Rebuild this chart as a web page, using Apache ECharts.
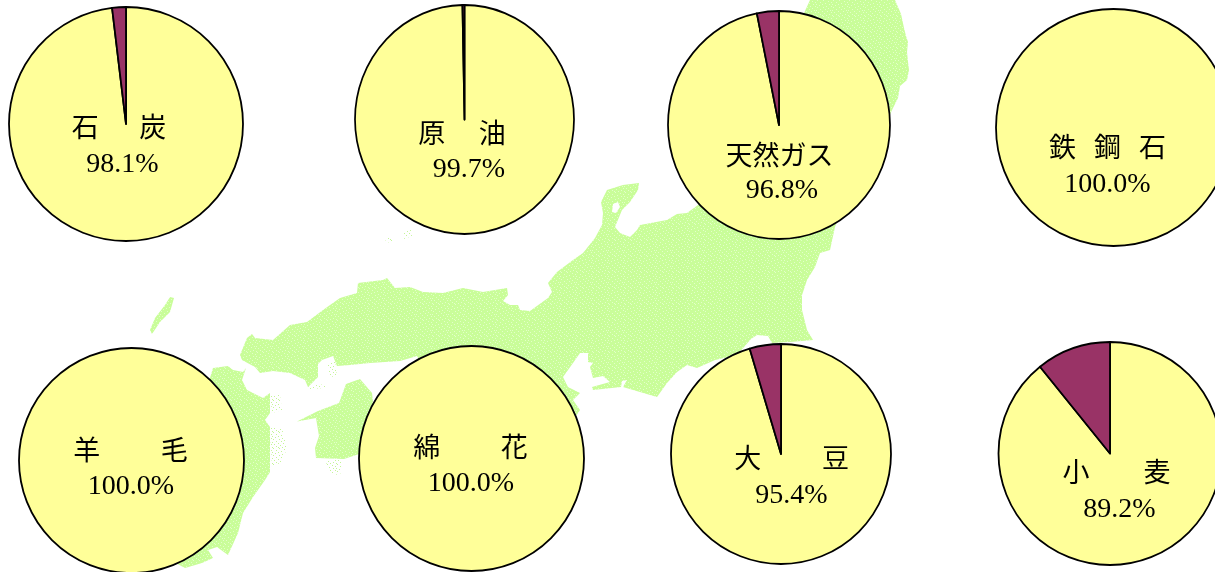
<!DOCTYPE html>
<html>
<head>
<meta charset="utf-8">
<style>
  html, body { margin: 0; padding: 0; background: #fff; }
  #chart { width: 1215px; height: 572px; }
</style>
<script src="https://cdn.jsdelivr.net/npm/echarts@6/dist/echarts.min.js"></script>
</head>
<body>
<div id="chart"></div>
<script>
// 品目ラベル(字間は原図に合わせる)
const categories = [
  '石\u2003\u2002炭', '原\u2003\u2005油', '天然ガス', '鉄\u2002\u2006鋼\u2002\u2006石',
  '羊\u2003\u2003\u2005毛', '綿\u2003\u2003\u2005花', '大\u2003\u2003\u2005豆', '小\u2003\u2003麦'
]
// 輸入依存率(%)
const importShare = [98.1, 99.7, 96.8, 100.0, 100.0, 100.0, 95.4, 89.2]
// 国内生産(%)
const domesticShare = [1.9, 0.3, 3.2, 0, 0, 0, 4.6, 10.8]

// 円の配置 [cx, cy, rx, ry] 原図は少し縦長のものがある
const pieLayout = [
  [126, 124, 117, 117], [464.5, 119.5, 109.5, 114.5], [779, 125, 111, 114], [1113.5, 127.5, 117.5, 118.5],
  [131.5, 460.5, 112.5, 112.5], [471.5, 458.5, 112.5, 112.5], [781, 454, 110, 110], [1110, 453.5, 111.5, 111.5]
]
// ラベル位置 [品目x, 品目y, 数値x, 数値y](中心)
const labelLayout = [
  [119, 127, 122.5, 165], [462, 133, 469, 170], [779.5, 155, 782, 191], [1107.5, 147, 1107.5, 185],
  [130.5, 450, 131, 487], [470.5, 447, 471, 484], [791.5, 458, 791.5, 496], [1116.5, 472, 1119.5, 510]
]

// 背景の日本地図(輪郭のトレース)
const honshuOutline = [
  [810,0],[895,0],[901,14],[904,28],[906,36],[908,42],[907,52],[908,62],[909,70],[907,80],[900,86],[898,98],[893,108],[885,125],[850,190],
  [835,227],[830,250],[820,253],[815,267],[807,280],[802,295],[802,310],[807,330],[813,340],[790,342],[772,343],
  [768,336],[757,335],[751,339],[737,355],[715,360],[697,368],[687,365],[677,372],[667,383],[657,397],[640,392],
  [623,387],[627,380],[622,381],[621,387],[593,390],[592,387],[610,382],[603,376],[593,378],[590,367],[593,363],
  [588,362],[588,353],[580,353],[573,363],[563,377],[568,387],[580,393],[573,400],[580,410],[560,440],[480,440],
  [430,380],[417,356],[400,361],[370,363],[350,365],[337,366],[333,356],[322,360],[318,364],[318,377],[308,387],
  [305,380],[290,373],[273,371],[260,373],[255,367],[242,360],[240,355],[247,338],[252,334],[255,338],[273,340],
  [290,325],[307,322],[323,310],[340,298],[357,293],[358,283],[383,280],[387,278],[395,288],[410,287],[423,292],
  [443,293],[463,288],[483,292],[507,288],[508,295],[503,301],[510,305],[518,305],[520,310],[530,311],[548,298],
  [552,292],[548,283],[557,272],[573,260],[583,253],[595,238],[602,225],[603,213],[601,202],[607,190],[623,185],
  [639,183],[638,190],[630,202],[622,210],[615,227],[620,233],[630,237],[637,230],[640,225],[667,220],[677,214],
  [687,213],[698,205],[760,110]
]
const shikokuOutline = [
  [360,379],[346,384],[339,403],[318,411],[297,421.5],[316,418],[319,436],[315,448],[316,458],[344,459],[362,453],
  [375,420],[372,393]
]
const kyushuOutline = [
  [210,378],[213,368],[228,366],[233,370],[243,372],[246,368],[242,380],[247,390],[263,398],[270,393],[270,413],
  [265,420],[270,427],[270,472],[265,480],[253,497],[243,513],[238,533],[228,555],[217,547],[208,550],[213,558],
  [202,563],[185,568],[170,560],[170,420]
]
const tsushima = [[170,297],[174,298],[170,312],[160,322],[152,334],[150,330],[155,318],[165,305]]
// 点描だけの淡い部分
const sparseAreas = [
  [[385,238],[392,238],[393,243],[386,242]],
  [[402,231],[411,230],[412,236],[404,239]],
  [[270,395],[280,395],[282,410],[272,413]],
  [[270,428],[282,428],[287,448],[282,462],[272,467]],
  [[325,460],[342,460],[340,476],[330,472]],
  [[308,386],[327,384],[326,388],[310,389]],
  [[327,363],[335,362],[337,376],[330,377]]
]
const nanaoBay = [[612,212],[613,204],[618,202],[620,207],[616,213]]

// 点描タイルの点(規則的に見えないよう不揃いにしてある)
const tileDots = [
  [1,0],[7,0],[12,1],[4,2],[15,2],[9,3],[0,4],[6,4],[13,4],[3,5],[10,6],[15,6],[1,7],[7,7],[12,8],
  [4,9],[9,9],[0,10],[14,10],[6,11],[11,11],[2,12],[15,12],[8,13],[13,14],[4,14],[0,15],[10,15],[6,15]
]

const makeTile = (base, dot) => {
  const tile = document.createElement('canvas')
  tile.width = 16
  tile.height = 16
  const ctx = tile.getContext('2d')
  if (base) {
    ctx.fillStyle = base
    ctx.fillRect(0, 0, 16, 16)
  }
  ctx.fillStyle = dot
  tileDots.forEach(p => ctx.fillRect(p[0], p[1], 1, 1))
  return tile
}

const landFill = { image: makeTile('#c9fd99', '#e2ffc8'), repeat: 'repeat' }
const sparseFill = { image: makeTile(null, '#c4f598'), repeat: 'repeat' }

const landShape = (points, fill) => ({
  type: 'polygon',
  silent: true,
  z: -10,
  shape: { points: points },
  style: { fill: fill, stroke: null }
})

const series = categories.map((name, i) => ({
  name: name,
  type: 'pie',
  center: [pieLayout[i][0], pieLayout[i][1]],
  radius: pieLayout[i][3],
  startAngle: 90,
  silent: true,
  animation: false,
  label: { show: false },
  labelLine: { show: false },
  itemStyle: { borderColor: '#000', borderWidth: 1.8 },
  emphasis: { disabled: true },
  data: [
    { value: importShare[i], name: '輸入', itemStyle: { color: '#ffff99' } },
    { value: domesticShare[i], name: '国内', itemStyle: { color: '#993366' } }
  ].filter(d => d.value > 0)
}))

const titles = []
categories.forEach((name, i) => {
  const pos = labelLayout[i]
  titles.push({
    text: name,
    left: pos[0],
    top: pos[1] - 15,
    padding: 0,
    textAlign: 'center',
    textStyle: { fontFamily: '"Noto Sans CJK JP"', fontSize: 27, fontWeight: 'normal', color: '#000', lineHeight: 30 }
  })
  titles.push({
    text: importShare[i].toFixed(1) + '%',
    left: pos[2],
    top: pos[3] - 15,
    padding: 0,
    textAlign: 'center',
    textStyle: { fontFamily: '"Liberation Serif"', fontSize: 28, fontWeight: 'normal', color: '#000', lineHeight: 30 }
  })
})

const chart = echarts.init(document.getElementById('chart'))
chart.setOption({
  animation: false,
  backgroundColor: '#fff',
  title: titles,
  graphic: {
    elements: [
      landShape(honshuOutline, landFill),
      landShape(shikokuOutline, landFill),
      landShape(kyushuOutline, landFill),
      landShape(tsushima, landFill),
      ...sparseAreas.map(a => landShape(a, sparseFill)),
      landShape(nanaoBay, '#fff')
    ]
  },
  series: series
})

// pie は真円しか描けないので、縦長の円だけ扇形を横に縮める
series.forEach((s, i) => {
  const [cx, cy, rx, ry] = pieLayout[i]
  if (rx === ry) return
  chart.getModel().getSeriesByIndex(i).getData().eachItemGraphicEl(el => {
    el.originX = cx
    el.originY = cy
    el.scaleX = rx / ry
    el.markRedraw()
  })
})
</script>
</body>
</html>
